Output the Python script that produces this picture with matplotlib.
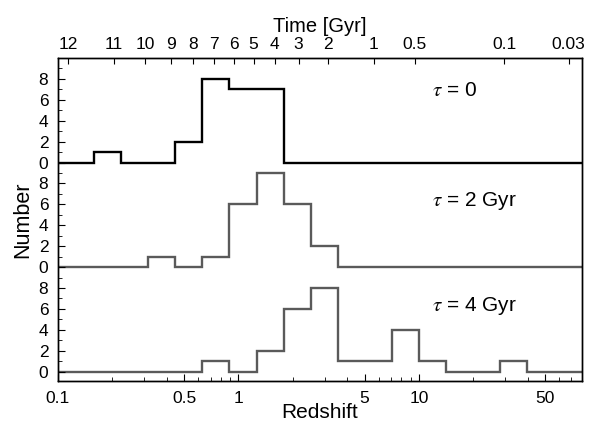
import numpy as np
import matplotlib
matplotlib.use('Agg')
import matplotlib.pyplot as plt
from matplotlib.ticker import FixedLocator, NullFormatter

plt.rcParams['font.family'] = ['Liberation Sans', 'DejaVu Sans']
plt.rcParams['mathtext.fontset'] = 'stix'

# bin edges in log10(redshift), 0.15 dex wide
log_edges = np.round(-1.1 + 0.15 * np.arange(22), 2)
counts_tau0 = [0, 0, 1, 0, 0, 2, 8, 7, 7, 0, 0, 0, 0, 0, 0, 0, 0, 0, 0, 0, 0]
counts_tau2 = [0, 0, 0, 0, 1, 0, 1, 6, 9, 6, 2, 0, 0, 0, 0, 0, 0, 0, 0, 0, 0]
counts_tau4 = [0, 0, 0, 0, 0, 0, 1, 0, 2, 6, 8, 1, 1, 4, 1, 0, 0, 1, 0, 0, 0]
labels = [r'$\tau$ = 0', r'$\tau$ = 2 Gyr', r'$\tau$ = 4 Gyr']
colors = ['black', '#5a5a5a', '#5a5a5a']
offsets = [20, 10, 0]

age_ticks = [12, 11, 10, 9, 8, 7, 6, 5, 4, 3, 2, 1, 0.5, 0.1, 0.03]
age_labels = ['12', '11', '10', '9', '8', '7', '6', '5', '4', '3', '2', '1', '0.5', '0.1', '0.03']

zmin, zmax = 0.1, 80


def age_to_z(t, h0=70.0, om=0.3):
    ol = 1 - om
    th = 977.8 / h0
    x = np.sinh(1.5 * np.sqrt(ol) * np.asarray(t) / th)
    return (np.sqrt(ol / om) / x) ** (2 / 3) - 1


fig = plt.figure(figsize=(5.9, 4.25), dpi=100)
ax = fig.add_axes([0.0983, 0.1035, 0.888, 0.76])

edges = 10 ** log_edges
label_y = [6.9, 6.3, 6.3]
for counts, off, col, lab, ly in zip([counts_tau0, counts_tau2, counts_tau4], offsets, colors, labels, label_y):
    vals = np.array(counts, dtype=float) + off
    ax.stairs(vals, edges, baseline=None, color=col, lw=1.7)
    ax.text(11.8, off + ly, lab, fontsize=15, ha='left', va='center')

ax.set_xscale('log')
ax.set_xlim(zmin, zmax)
ax.set_ylim(-0.9, 30)
for s in ax.spines.values():
    s.set_linewidth(1.0)

major_y = [o + v for o in offsets for v in (0, 2, 4, 6, 8)]
minor_y = [o + v for o in offsets for v in (1, 3, 5, 7, 9)]
ax.yaxis.set_major_locator(FixedLocator(major_y))
ax.yaxis.set_minor_locator(FixedLocator(minor_y))
ax.set_yticklabels([str(int(v) % 10) for v in major_y])

ax.xaxis.set_major_locator(FixedLocator([0.1, 0.5, 1, 5, 10, 50]))
ax.set_xticklabels(['0.1', '0.5', '1', '5', '10', '50'])
minor_x = [m * d for d in (0.1, 1, 10) for m in range(2, 10)]
ax.xaxis.set_minor_locator(FixedLocator([v for v in minor_x if v not in (0.5, 5, 50)]))
ax.xaxis.set_minor_formatter(NullFormatter())

ax.tick_params(which='both', direction='in', top=False, right=False, labelsize=12.5)
ax.tick_params(which='major', length=5)
ax.tick_params(which='minor', length=3)
ax.tick_params(axis='x', pad=7)
ax.tick_params(axis='y', pad=7)
ax.set_xlabel('Redshift', fontsize=15, labelpad=-2)
ax.set_ylabel('Number', fontsize=15.5, labelpad=4)

top = ax.twiny()
top.set_xscale('log')
top.set_xlim(zmin, zmax)
top.xaxis.set_major_locator(FixedLocator(age_to_z(age_ticks)))
top.set_xticklabels(age_labels)
top.xaxis.set_minor_locator(FixedLocator([]))
top.tick_params(direction='in', length=4, labelsize=12.5, pad=4)
top.set_xlabel('Time [Gyr]', fontsize=14.5, labelpad=4)
for s in top.spines.values():
    s.set_linewidth(1.0)

fig.savefig('out.png', dpi=100)
